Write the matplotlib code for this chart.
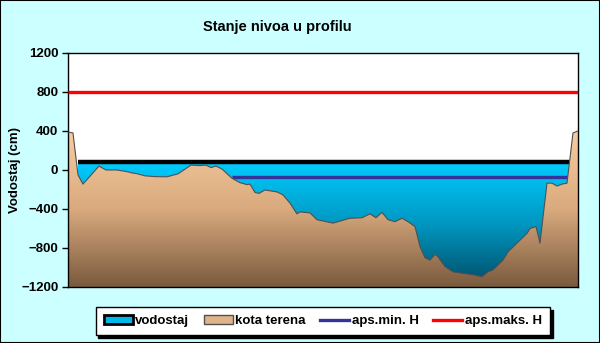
import numpy as np
import matplotlib
matplotlib.use("Agg")
import matplotlib.pyplot as plt
from matplotlib.colors import LinearSegmentedColormap
from matplotlib.patches import Polygon, Rectangle, Patch
from matplotlib.lines import Line2D

plt.rcParams['font.family'] = ['Liberation Sans', 'DejaVu Sans']

# --- profile data (stacionaza in m, kota terena in cm) ---
stacionaza = [0.0, 1.0, 2.0, 3.0, 6.2, 7.6, 9.8, 11.8, 12.8, 13.8, 15.4, 17.4,
              19.8, 22.0, 24.6, 26.4, 27.6, 28.6, 29.6, 30.8, 32.8, 34.4, 35.8,
              36.4, 37.4, 38.2, 39.4, 41.8, 43.0, 44.4, 45.8, 46.4, 48.4, 49.8,
              53.0, 56.4, 58.8, 60.4, 61.6, 62.8, 64.0, 65.4, 66.8, 68.0, 69.4,
              70.4, 71.4, 72.4, 73.4, 74.0, 75.4, 77.0, 79.0, 81.0, 82.8, 84.0,
              85.0, 87.0, 88.0, 90.4, 91.8, 92.4, 93.6, 94.4, 95.8, 96.8, 97.8,
              98.8, 99.8, 101.0, 102.0]
kota_terena = [390, 380, -50, -145, 40, 0, 0, -17, -30, -38, -60, -68,
               -70, -40, 50, 45, 50, 25, 40, 10, -85, -130, -150,
               -145, -230, -240, -205, -225, -255, -340, -450, -430, -440, -510,
               -545, -495, -490, -450, -490, -435, -510, -530, -495, -530, -580,
               -785, -900, -925, -865, -890, -990, -1045, -1060, -1075, -1095, -1045,
               -1025, -925, -840, -720, -650, -600, -580, -750, -135, -135, -165,
               -145, -135, 380, 400]

vodostaj = 80          # current water level
vodostaj_od_do = [2.0, 100.2]
aps_min = -70
aps_min_od_do = [32.8, 100.0]
aps_max = 800

bg = '#CCFFFF'
fig = plt.figure(figsize=(6, 3.43), dpi=100, facecolor=bg)
fig.patches.append(Rectangle((0, 0), 1, 1, transform=fig.transFigure,
                             fill=False, edgecolor='black', lw=1.5))
ax = fig.add_axes([0.1133, 0.1633, 0.85, 0.6822])
ax.set_facecolor('white')

x0, x1 = stacionaza[0], stacionaza[-1]
ymin, ymax = -1200, 1200

# water body: gradient rectangle from the level down to the axis floor
water_cmap = LinearSegmentedColormap.from_list('voda', ['#00CCFF', '#0096C0', '#004C66'])
water_rect = Rectangle((vodostaj_od_do[0], ymin), vodostaj_od_do[1] - vodostaj_od_do[0],
                       vodostaj - ymin, facecolor='none', edgecolor='none')
ax.add_patch(water_rect)
grad = np.linspace(0, 1, 256).reshape(-1, 1)
im = ax.imshow(grad, cmap=water_cmap, aspect='auto', origin='upper',
               extent=[vodostaj_od_do[0], vodostaj_od_do[1], ymin, vodostaj], zorder=1)
im.set_clip_path(water_rect)

# terrain: gradient polygon under the profile
terrain_cmap = LinearSegmentedColormap.from_list('teren', ['#F7CDA2', '#D9AA7E', '#7A5A3E'])
verts = list(zip(stacionaza, kota_terena)) + [(x1, ymin), (x0, ymin)]
terrain_poly = Polygon(verts, closed=True, facecolor='none', edgecolor='none')
ax.add_patch(terrain_poly)
im2 = ax.imshow(grad, cmap=terrain_cmap, aspect='auto', origin='upper',
                extent=[x0, x1, ymin, max(kota_terena)], zorder=2)
im2.set_clip_path(terrain_poly)
ax.plot(stacionaza, kota_terena, color='#505050', lw=0.8, zorder=3)

# level lines
ax.plot(vodostaj_od_do, [vodostaj, vodostaj], color='black', lw=3.2, zorder=1.5,
        solid_capstyle='butt')
ax.plot(aps_min_od_do, [aps_min, aps_min], color='#333399', lw=2.4, zorder=1.5,
        solid_capstyle='butt')
ax.plot([x0, x1], [aps_max, aps_max], color='red', lw=2.4, zorder=4,
        solid_capstyle='butt')

ax.set_xlim(x0, x1)
ax.set_ylim(ymin, ymax)
ax.set_xticks([])
ax.set_yticks(np.arange(-1200, 1201, 400))
ax.tick_params(axis='y', length=4, width=1, labelsize=9.5, pad=3)
for lbl in ax.get_yticklabels():
    lbl.set_fontweight('bold')
for s in ax.spines.values():
    s.set_linewidth(1)
    s.set_color('black')

ax.set_ylabel('Vodostaj (cm)', fontsize=9.5, fontweight='bold')
ax.yaxis.set_label_coords(-0.092, 0.5)
fig.text(0.462, 0.92, 'Stanje nivoa u profilu', ha='center', va='center',
         fontsize=10.5, fontweight='bold')

handles = [
    Patch(facecolor='#00B8E8', edgecolor='black', lw=2),
    Patch(facecolor='#E0B48A', edgecolor='#505050', lw=1),
    Line2D([], [], color='#333399', lw=2.4),
    Line2D([], [], color='red', lw=2.4),
]
labels = ['vodostaj', 'kota terena', 'aps.min. H', 'aps.maks. H']
leg = fig.legend(handles, labels, loc='center', bbox_to_anchor=(0.538, 0.064), ncol=4,
                 frameon=True, fancybox=False, shadow={'color': 'black', 'alpha': 1},
                 handlelength=2.2, handleheight=0.6, handletextpad=0.2, columnspacing=1.1,
                 borderpad=0.6, prop={'weight': 'bold', 'size': 9.5})
leg.get_frame().set_edgecolor('black')
leg.get_frame().set_linewidth(1)

fig.savefig('out.png', dpi=100, facecolor=bg)
